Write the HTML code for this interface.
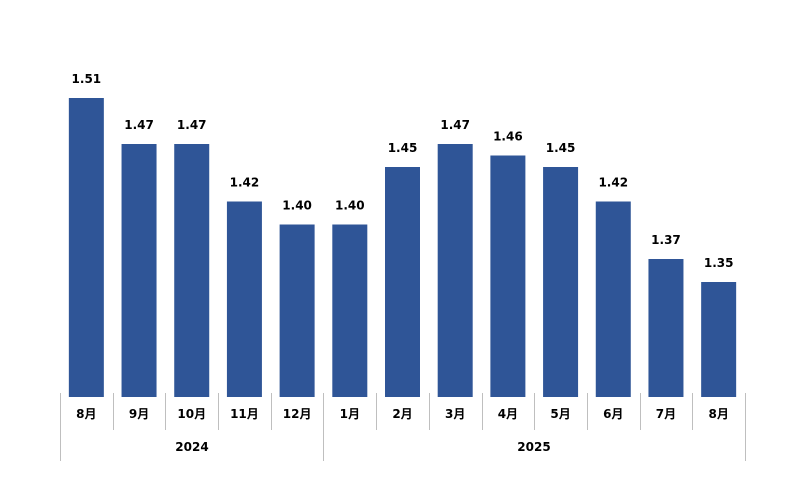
<!DOCTYPE html>
<html><head><meta charset="utf-8"><style>body{margin:0;background:#fff}</style></head><body>
<svg width="800" height="494" xmlns="http://www.w3.org/2000/svg" font-family="'DejaVu Sans','Noto Sans CJK JP',sans-serif" font-weight="bold" font-size="12" fill="#000">
<g id="g"></g>
</svg>
<script>
const v=[1.51,1.47,1.47,1.42,1.40,1.40,1.45,1.47,1.46,1.45,1.42,1.37,1.35];
const m=["8月","9月","10月","11月","12月","1月","2月","3月","4月","5月","6月","7月","8月"];
const w=685/13,base=397;let s="";
for(let i=0;i<13;i++){const c=60+w*(i+0.5),top=base-(v[i]-1.25)*1150;
s+=`<rect x="${c-17.5}" y="${top}" width="35" height="${base-top}" fill="#2F5597"/>`;
s+=`<text x="${c}" y="${top-15}" text-anchor="middle">${v[i].toFixed(2)}</text>`;
s+=`<text x="${c}" y="418" text-anchor="middle">${m[i]}</text>`;}
for(let i=0;i<=13;i++){const x=Math.round(60+w*i)+0.5;const y2=(i==0||i==5||i==13)?461:430;
s+=`<line x1="${x}" y1="393" x2="${x}" y2="${y2}" stroke="#bfbfbf"/>`;}
s+=`<text x="192" y="451" text-anchor="middle">2024</text><text x="534" y="451" text-anchor="middle">2025</text>`;
document.getElementById("g").innerHTML=s;
</script>
</body></html>
